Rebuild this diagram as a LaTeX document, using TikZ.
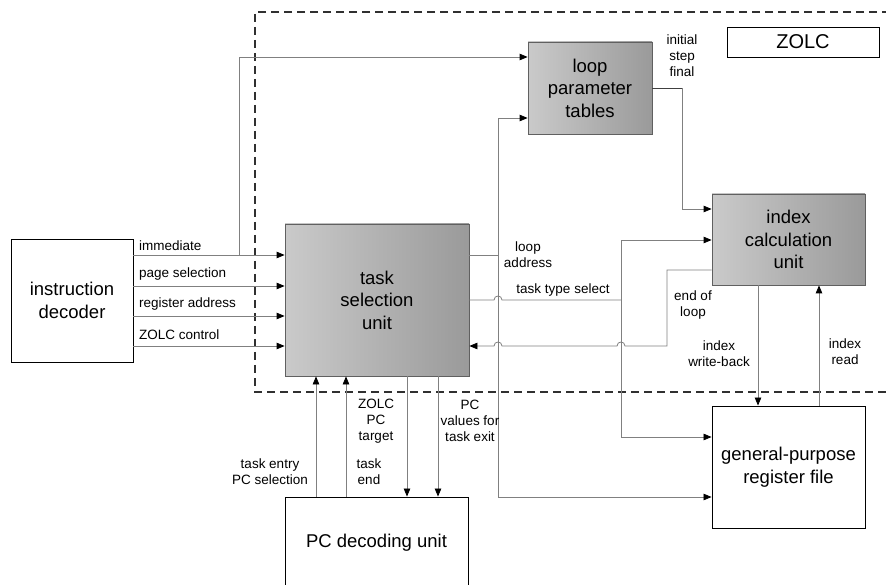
\documentclass[tikz,border=0pt]{standalone}
\usepackage{fontspec}
\setmainfont{Liberation Sans}
\usetikzlibrary{arrows.meta}
\definecolor{gleft}{HTML}{CACACA}
\definecolor{gright}{HTML}{9A9A9A}
\definecolor{bordergray}{HTML}{606060}
\definecolor{linegray}{HTML}{808080}
\definecolor{dashgray}{HTML}{303030}
\begin{document}
\begin{tikzpicture}[x=1pt,y=-1pt,
  shadebox/.style={draw=bordergray,line width=0.8pt,left color=gleft,right color=gright,
    align=center,inner sep=0pt,font=\fontsize{18.5}{22.5}\selectfont},
  whitebox/.style={draw=black,line width=0.9pt,fill=white,
    align=center,inner sep=0pt,font=\fontsize{18.5}{22.5}\selectfont},
  conn/.style={draw=linegray,line width=0.8pt},
  arr/.style={-{Triangle[length=8pt,width=6.5pt,color=black]}},
  lbl/.style={inner sep=0pt,align=center,font=\fontsize{13.5}{16}\selectfont}]
\useasboundingbox (0,0) rectangle (886,585);
\clip (0,0) rectangle (886,585);
\fill[white] (0,0) rectangle (886,585);

% ZOLC boundary
\draw[dashgray,line width=1.2pt,dash pattern=on 8pt off 5pt] (890,12) -- (255,12) -- (255,392) -- (890,392);

% boxes
\node[whitebox,minimum width=152pt,minimum height=30pt,font=\fontsize{20}{24}\selectfont] (ZOLC) at (803,42) {ZOLC};
\node[whitebox,minimum width=122pt,minimum height=123pt] (ID) at (72,300.5) {instruction\\decoder};
\node[shadebox,minimum width=184pt,minimum height=152pt] (TSU) at (377,300) {task\\selection\\unit};
\node[shadebox,minimum width=124pt,minimum height=92pt] (LPT) at (590,88) {loop\\parameter\\tables};
\node[shadebox,minimum width=153pt,minimum height=91pt] (ICU) at (788.5,239.5) {index\\calculation\\unit};
\node[whitebox,minimum width=153pt,minimum height=122pt] (GPR) at (788.5,467) {general-purpose\\register file};
\node[whitebox,minimum width=183pt,minimum height=95pt,text depth=0pt] (PCD) at (376.5,544.5) {};
\node[inner sep=0pt,font=\fontsize{18.5}{22.5}\selectfont] (PCDt) at (376.5,543) {PC decoding unit};

% instruction decoder -> task selection
\coordinate (jimm) at (239,255);
\draw[conn,arr] (ID.east |- 0,255) -- (TSU.west |- 0,255);
\draw[conn,arr] (ID.east |- 0,286) -- (TSU.west |- 0,286);
\draw[conn,arr] (ID.east |- 0,316) -- (TSU.west |- 0,316);
\draw[conn,arr] (ID.east |- 0,346) -- (TSU.west |- 0,346);
\node[lbl,anchor=base west] (l1) at (139,251) {immediate};
\node[lbl,anchor=base west] (l2) at (139,277.5) {page selection};
\node[lbl,anchor=base west] (l3) at (139,308) {register address};
\node[lbl,anchor=base west] (l4) at (139,339) {ZOLC control};

% immediate -> loop parameter tables
\draw[conn,arr] (jimm) -- (239,57) -- (LPT.west |- 0,57);

% loop address
\coordinate (jla) at (498,255);
\draw[conn] (TSU.east |- 0,255) -- (jla);
\draw[conn,arr] (jla) -- (498,118) -- (LPT.west |- 0,118);
\draw[conn,arr] (jla) -- (498,497) -- (GPR.west |- 0,497);
\node[lbl] (lla) at (528,255) {loop\\address};

% task type select
\coordinate (jts) at (621,300);
\draw[conn] (TSU.east |- 0,300) -- (494,300) .. controls (494,294.7) and (502,294.7) .. (502,300) -- (jts);
\draw[conn,arr] (jts) -- (621,240) -- (ICU.west |- 0,240);
\draw[conn,arr] (jts) -- (621,437) -- (GPR.west |- 0,437);
\node[lbl] (lts) at (563,290) {task type select};

% loop parameter tables -> index calculation
\draw[conn,arr] (LPT.east |- 0,88) -- (682,88) -- (682,209) -- (ICU.west |- 0,209);
\draw[black!75,line width=0.9pt] (LPT.east |- 0,88) -- (682,88);
\node[lbl] (lisf) at (682,56) {initial\\step\\final};

% end of loop
\draw[conn,arr] (ICU.west |- 0,270) -- (667,270) -- (667,346) -- (625,346)
  .. controls (625,340.7) and (617,340.7) .. (617,346) -- (502,346)
  .. controls (502,340.7) and (494,340.7) .. (494,346) -- (TSU.east |- 0,346);
\node[lbl] (leol) at (693,305) {end of\\loop};

% index write-back / read
\draw[conn,arr] (ICU.south -| 758,0) -- (GPR.north -| 758,0);
\draw[conn,arr] (GPR.north -| 819,0) -- (ICU.south -| 819,0);
\node[lbl] (liwb) at (719,353.5) {index\\write-back};
\node[lbl] (lir) at (845,352) {index\\read};

% PC decoding unit <-> task selection unit
\draw[conn,arr] (PCD.north -| 316,0) -- (TSU.south -| 316,0);
\draw[conn,arr] (PCD.north -| 346,0) -- (TSU.south -| 346,0);
\draw[conn,arr] (TSU.south -| 407,0) -- (PCD.north -| 407,0);
\draw[conn,arr] (TSU.south -| 438,0) -- (PCD.north -| 438,0);
\node[lbl] (lte) at (270,472) {task entry\\PC selection};
\node[lbl] (lten) at (369,472) {task\\end};
\node[lbl] (lzpt) at (376,421) {ZOLC\\PC\\target};
\node[lbl] (lpcv) at (470,421) {PC\\values for\\task exit};
\end{tikzpicture}
\end{document}
